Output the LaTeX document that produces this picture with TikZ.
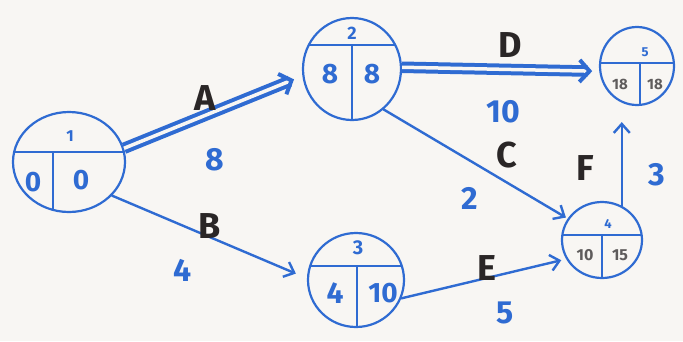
\documentclass[tikz,border=0pt]{standalone}
\usepackage{fontspec}
\setmainfont{Fira Sans}
\usepackage{tikz}
\usetikzlibrary{positioning,shapes.geometric,arrows.meta,calc}
\definecolor{pen}   {HTML}{2F6BD2}
\definecolor{ink}   {HTML}{2A2626}
\definecolor{paper} {HTML}{F8F6F3}
\newcommand\hand[1]{\fontsize{#1}{#1}\selectfont\bfseries}
\tikzset{
  >={Straight Barb[length=9pt,width=16pt]},
  % --- event circles
  evt/.style 2 args = {ellipse, draw=pen, line width=2.2pt, inner sep=0pt,
                  path picture={
                    \draw[pen, line width=2pt] ($(path picture bounding box.center)+(-90,#1)$) -- ++(180,0);
                    \draw[pen, line width=2pt] ($(path picture bounding box.center)+(#2,#1)$) -- ++(0,90);
                  }},
  num/.style   = {text=pen, inner sep=0pt},
  tim/.style   = {text=ink!75, inner sep=0pt},
  % --- arcs
  arc/.style   = {->, draw=pen, line width=2.4pt, line cap=round},
  crit/.style  = {-{Straight Barb[length=10pt,width=22pt]}, draw=pen, line width=4pt,
                  double=paper, double distance=3.5pt},
  act/.style   = {text=ink, font=\hand{36}, inner sep=0pt},
  dur/.style   = {text=pen, font=\hand{32}, inner sep=0pt},
}
\begin{document}
\begin{tikzpicture}[x=1pt,y=-1pt]
  \fill[paper] (0,0) rectangle (683,341);
  \useasboundingbox (0,0) rectangle (683,341);

  % events
  \node[evt={-10}{-16}, minimum width=112pt, minimum height=100pt] (n1) at (69,162) {};
  \node[evt={-24}{0},   minimum width=98pt,  minimum height=102pt] (n2) at (352,69) {};
  \node[evt={-14}{1},   minimum width=96pt,  minimum height=94pt]  (n3) at (356,280) {};
  \node[evt={-5}{0},    minimum width=80pt,  minimum height=76pt]  (n4) at (602,240) {};
  \node[evt={-3}{3},    minimum width=74pt,  minimum height=78pt]  (n5) at (637,66) {};

  % event numbers and times
  \node[num, font=\hand{16}] (n1id) at (70,136) {1};
  \node[num, font=\hand{28}] (n1es) at (33,182) {0};
  \node[num, font=\hand{28}] (n1lf) at (81,180) {0};
  \node[num, font=\hand{18}] (n2id) at (352,33) {2};
  \node[num, font=\hand{28}] (n2es) at (330,74) {8};
  \node[num, font=\hand{28}] (n2lf) at (372,74) {8};
  \node[num, font=\hand{20}] (n3id) at (358,248) {3};
  \node[num, font=\hand{30}] (n3es) at (335,293) {4};
  \node[num, font=\hand{28}] (n3lf) at (383,293) {10};
  \node[num, font=\hand{13}] (n4id) at (608,224) {4};
  \node[tim, font=\hand{16}] (n4es) at (585,255) {10};
  \node[tim, font=\hand{16}] (n4lf) at (620,255) {15};
  \node[num, font=\hand{13}] (n5id) at (645,52)  {5};
  \node[tim, font=\hand{15}] (n5es) at (620,84)  {18};
  \node[tim, font=\hand{15}] (n5lf) at (655,84)  {18};

  % activities
  \draw[crit, shorten >=9pt] (n1.14) -- (n2.188);
  \draw[crit, shorten >=7pt] (n2.2) -- (n5.188);
  \draw[arc, shorten >=2pt] (n2.-52) -- (n4.148);
  \draw[arc, shorten >=12pt] (n1.-38) -- (n3.178);
  \draw[arc, shorten >=5pt] (n3.-22) -- (n4.208);
  \draw[arc, shorten >=16pt] (n4.60) -- (n4.60 |- n5.south);

  % labels
  \node[act] (lA) at (205,98)  {A};
  \node[dur] (dA) at (215,160) {8};
  \node[act] (lD) at (510,45)  {D};
  \node[dur] (dD) at (503,112) {10};
  \node[act] (lC) at (507,155) {C};
  \node[dur] (dC) at (470,198) {2};
  \node[act] (lB) at (210,226) {B};
  \node[dur] (dB) at (183,270) {4};
  \node[act] (lE) at (487,268) {E};
  \node[dur] (dE) at (505,313) {5};
  \node[act] (lF) at (585,168) {F};
  \node[dur] (dF) at (657,175) {3};
\end{tikzpicture}
\end{document}
